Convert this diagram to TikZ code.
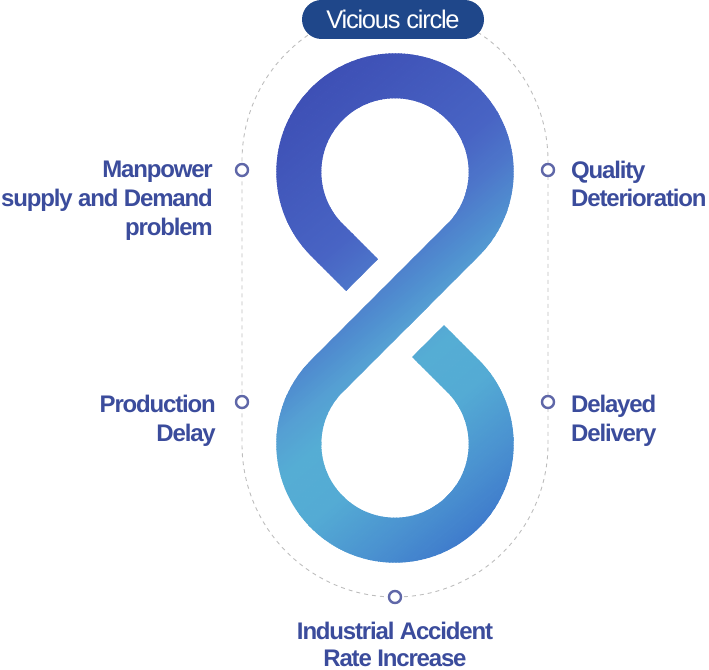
\documentclass[tikz,border=0pt]{standalone}
\usepackage{fontspec}
\setmainfont{Liberation Sans}[LetterSpace=-4.9]
\usetikzlibrary{calc}
\definecolor{pillblue}{HTML}{1F478A}
\definecolor{labelblue}{HTML}{3B4C9C}
\definecolor{markerblue}{HTML}{5F67A8}
\definecolor{dashgray}{HTML}{BDBDBD}
\definecolor{eightA}{HTML}{3D4EB4}
\definecolor{eightB}{HTML}{4864C4}
\definecolor{eightC}{HTML}{4D76CA}
\definecolor{eightD}{HTML}{5090D0}
\definecolor{eightE}{HTML}{559FD3}
\definecolor{eightF}{HTML}{55ADD4}
\definecolor{eightG}{HTML}{54ABD4}
\definecolor{eightH}{HTML}{4A91D0}
\definecolor{eightI}{HTML}{3C76CB}

\begin{document}
\begin{tikzpicture}[x=1pt,y=1pt,
  marker/.style={circle,draw=markerblue,line width=2.4pt,fill=white,minimum size=12pt,inner sep=0pt},
  lbl/.style={text=labelblue,font=\fontsize{24}{28.7}\selectfont\bfseries,inner sep=0pt},
  ring/.style={draw=dashgray,line width=0.9pt,dash pattern=on 4pt off 4pt},
  pill/.style={fill=pillblue,text=white,rounded corners=19.5pt,minimum width=182pt,minimum height=39pt,font=\fontsize{25.5}{30}\selectfont,inner sep=0pt}]
  \useasboundingbox (0,0) rectangle (709,669);
  \coordinate (A) at (395,497);
  \coordinate (B) at (395,225);
  \coordinate (S1) at (361.98,393.98);
  \coordinate (S2) at (428.02,328.02);

  \draw[ring] (548,225) -- (548,508) arc[start angle=0,end angle=180,radius=153]
    -- (242,225) arc[start angle=180,end angle=360,radius=153];

  \begin{scope}
    \clip ($(S1)+(225:22.5)$) -- ($(A)+(225:118.7)$)
      arc[start angle=225,end angle=-45,radius=118.7]
      -- ($(B)+(135:73.7)$) arc[start angle=135,end angle=405,radius=73.7]
      -- ($(S2)+(225:22.5)$) -- ($(S2)+(45:22.5)$) -- ($(B)+(45:118.7)$)
      arc[start angle=45,end angle=-225,radius=118.7]
      -- ($(A)+(-45:73.7)$) arc[start angle=-45,end angle=225,radius=73.7]
      -- ($(S1)+(45:22.5)$) -- cycle;
    \begin{scope}[rotate=-50]
      \foreach \pa/\pb/\ca/\cb in {255/405/eightA/eightB,405/445/eightB/eightC,445/487/eightC/eightD,
        487/510/eightD/eightE,510/545/eightE/eightF,545/600/eightF/eightG,600/665/eightG/eightH,665/725/eightH/eightI}{
        \pgfmathtruncatemacro\n{max(1,round((\pb-\pa)/2))}
        \foreach \k in {0,...,\n}{
          \pgfmathsetmacro\u{\pa+(\pb-\pa)*\k/\n-512.45}
          \pgfmathsetmacro\du{(\pb-\pa)/\n+0.6}
          \pgfmathtruncatemacro\pct{100*\k/\n}
          \fill[fill=\cb!\pct!\ca] (\u,255) rectangle ++(\du,560);
        }
      }
    \end{scope}
  \end{scope}

  \node[marker] (mman) at (242,499) {};
  \node[marker] (mqual) at (548,499) {};
  \node[marker] (mprod) at (242,267) {};
  \node[marker] (mdel) at (548,267) {};
  \node[marker] (mind) at (395,72) {};

  \node[lbl,align=right,anchor=north east] (manpower) at (213,507.9) {Manpower\\supply and Demand\\problem};
  \node[lbl,align=left,anchor=north west] (quality) at (571,508.5) {Quality\\Deterioration};
  \node[lbl,align=right,anchor=north east] (production) at (216,273.9) {Production\\Delay};
  \node[lbl,align=left,anchor=north west] (delayed) at (571,274.2) {Delayed\\Delivery};
  \node[lbl,align=center,anchor=north,font=\fontsize{24}{27}\selectfont\bfseries] (industrial) at (395,47.2) {Industrial Accident\\Rate Increase};

  \node[pill] (title) at (393,649.5) {Vicious circle};
\end{tikzpicture}
\end{document}
